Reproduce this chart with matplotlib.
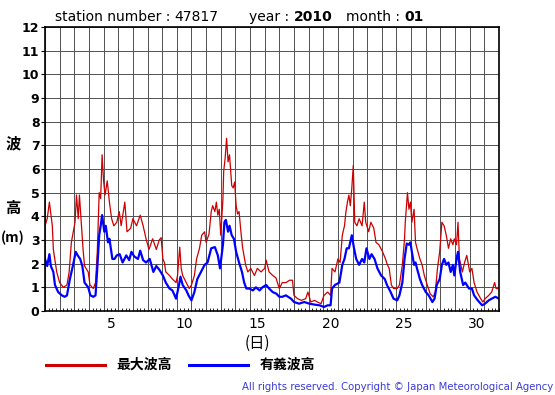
import matplotlib
matplotlib.use("Agg")
import matplotlib.pyplot as plt
from matplotlib.ticker import FixedLocator, MultipleLocator

plt.rcParams["font.family"] = ["DejaVu Sans", "Noto Sans CJK JP"]

# day axis: 0 = start of 1 Jan, 31 = end of 31 Jan
max_t = [0.0, 0.15, 0.3, 0.5, 0.57, 0.8, 1.0, 1.25, 1.5, 1.65, 1.8, 2.05, 2.15,
         2.27, 2.35, 2.5, 2.6, 2.7, 2.95, 3.07, 3.3, 3.45, 3.57, 3.7, 3.8, 3.9,
         4.0, 4.1, 4.25, 4.4, 4.55, 4.7, 4.9, 5.07, 5.2, 5.45, 5.6, 5.85, 6.0,
         6.25, 6.5, 6.7, 6.9, 7.1, 7.35, 7.6, 7.8, 7.93, 8.05, 8.15, 8.25, 8.5,
         8.7, 8.95, 9.05, 9.2, 9.3, 9.4, 9.65, 9.85, 10.0, 10.2, 10.35, 10.55,
         10.7, 10.9, 11.0, 11.2, 11.35, 11.45, 11.6, 11.7, 11.8, 11.9, 12.0,
         12.15, 12.2, 12.3, 12.4, 12.5, 12.6, 12.75, 12.85, 12.95, 13.05, 13.15,
         13.25, 13.4, 13.5, 13.7, 13.85, 14.05, 14.3, 14.5, 14.75, 15.0, 15.1,
         15.3, 15.55, 15.77, 16.0, 16.2, 16.45, 16.7, 16.9, 17.0, 17.25, 17.5,
         17.8, 17.95, 18.15, 18.4, 18.6, 18.85, 19.05, 19.3, 19.5, 19.6, 19.8,
         20.0, 20.15, 20.3, 20.45, 20.55, 20.65, 20.75, 20.85, 20.95, 21.05,
         21.15, 21.3, 21.45, 21.65, 21.8, 21.9, 22.1, 22.25, 22.45, 22.6, 22.8,
         23.05, 23.25, 23.35, 23.5, 23.65, 23.8, 24.05, 24.2, 24.4, 24.55, 24.6,
         24.75, 24.85, 24.95, 25.05, 25.2, 25.3, 25.4, 25.6, 25.75, 25.9, 26.1,
         26.3, 26.5, 26.65, 26.8, 26.95, 27.1, 27.25, 27.4, 27.55, 27.7, 27.85,
         27.95, 28.1, 28.2, 28.3, 28.5, 28.65, 28.8, 29.0, 29.15, 29.3, 29.5,
         29.75, 29.9, 30.05, 30.3, 30.5, 30.7, 30.8, 31.0]
max_h = [3.6, 3.9, 4.6, 3.6, 2.6, 1.65, 1.2, 1.0, 1.1, 1.65, 2.9, 3.75, 4.9,
         3.9, 4.9, 3.5, 2.6, 1.9, 1.65, 1.1, 0.95, 1.2, 2.5, 5.0, 4.75, 6.6,
         5.5, 4.9, 5.5, 4.6, 3.9, 3.6, 3.75, 4.2, 3.6, 4.6, 3.35, 3.5, 3.9,
         3.6, 4.05, 3.6, 3.05, 2.6, 3.05, 2.6, 3.0, 3.1, 2.2, 2.05, 1.65, 1.5,
         1.35, 1.2, 1.5, 2.7, 1.8, 1.5, 1.2, 0.95, 1.1, 1.5, 2.2, 2.65, 3.2,
         3.35, 2.9, 3.25, 4.2, 4.45, 4.2, 4.6, 4.05, 4.3, 3.2, 4.75, 5.9, 6.45,
         7.3, 6.3, 6.6, 5.3, 5.2, 5.45, 4.45, 4.1, 4.2, 3.2, 2.65, 1.95, 1.65,
         1.8, 1.5, 1.8, 1.65, 1.8, 2.15, 1.65, 1.5, 1.4, 0.95, 1.2, 1.2, 1.3,
         1.3, 0.66, 0.52, 0.45, 0.52, 0.8, 0.38, 0.45, 0.38, 0.31, 0.66, 0.8,
         0.66, 1.8, 1.65, 2.2, 2.05, 3.2, 3.6, 4.2, 4.6, 4.9, 4.45, 5.2, 6.15,
         3.75, 3.6, 3.9, 3.6, 4.6, 3.75, 3.35, 3.75, 3.5, 2.9, 2.8, 2.5, 2.2,
         2.0, 1.8, 1.1, 0.95, 0.95, 1.1, 1.95, 3.05, 3.75, 5.0, 4.3, 4.6, 3.75,
         4.3, 2.9, 2.65, 2.2, 1.95, 1.5, 1.1, 0.73, 0.6, 0.8, 1.8, 2.5, 3.75,
         3.6, 3.2, 2.65, 3.05, 2.8, 3.05, 2.8, 3.75, 2.2, 1.65, 2.05, 2.35,
         1.65, 1.8, 1.2, 0.8, 0.52, 0.38, 0.52, 0.66, 0.8, 1.2, 0.95, 0.95]

sig_t = [0.0, 0.15, 0.3, 0.4, 0.57, 0.68, 0.9, 1.15, 1.35, 1.5, 1.7, 1.9, 2.1,
         2.23, 2.4, 2.55, 2.7, 2.95, 3.1, 3.3, 3.45, 3.57, 3.7, 3.8, 3.9, 4.05,
         4.15, 4.3, 4.4, 4.6, 4.75, 4.9, 5.1, 5.3, 5.55, 5.75, 5.9, 6.1, 6.35,
         6.5, 6.7, 6.9, 7.15, 7.4, 7.6, 7.8, 8.05, 8.25, 8.5, 8.7, 8.95, 9.15,
         9.25, 9.4, 9.65, 9.8, 10.0, 10.2, 10.4, 10.65, 10.9, 11.1, 11.35, 11.6,
         11.8, 11.95, 12.15, 12.25, 12.35, 12.5, 12.6, 12.75, 12.9, 13.05,
         13.25, 13.45, 13.6, 13.75, 13.95, 14.2, 14.4, 14.65, 14.85, 15.1, 15.3,
         15.55, 15.8, 16.0, 16.2, 16.45, 16.8, 17.0, 17.35, 17.7, 18.05, 18.4,
         18.75, 19.05, 19.3, 19.5, 19.6, 19.8, 20.1, 20.3, 20.45, 20.6, 20.75,
         20.95, 21.1, 21.25, 21.45, 21.65, 21.8, 21.95, 22.15, 22.3, 22.5, 22.7,
         22.95, 23.2, 23.35, 23.6, 23.8, 24.05, 24.2, 24.4, 24.55, 24.7, 24.85,
         24.95, 25.05, 25.2, 25.3, 25.4, 25.6, 25.75, 26.0, 26.2, 26.45, 26.6,
         26.75, 26.95, 27.1, 27.25, 27.4, 27.55, 27.7, 27.85, 27.95, 28.1, 28.2,
         28.35, 28.55, 28.7, 28.95, 29.15, 29.3, 29.55, 29.85, 30.05, 30.3,
         30.5, 30.75, 31.0]
sig_h = [2.2, 1.9, 2.4, 1.9, 1.65, 1.1, 0.8, 0.66, 0.6, 0.66, 1.35, 1.9, 2.5,
         2.35, 2.2, 1.9, 1.2, 1.0, 0.66, 0.6, 0.66, 1.8, 3.2, 3.6, 4.05, 3.35,
         3.6, 2.9, 3.05, 2.2, 2.2, 2.35, 2.4, 2.05, 2.35, 2.15, 2.5, 2.3, 2.2,
         2.55, 2.15, 2.05, 2.2, 1.65, 1.9, 1.75, 1.5, 1.2, 0.95, 0.87, 0.52,
         1.1, 1.45, 1.1, 0.87, 0.66, 0.45, 0.8, 1.35, 1.65, 1.95, 2.05, 2.65,
         2.7, 2.35, 1.8, 2.8, 3.75, 3.85, 3.35, 3.6, 3.2, 3.05, 2.5, 2.05, 1.65,
         1.2, 0.95, 0.95, 0.87, 1.0, 0.87, 1.0, 1.1, 0.95, 0.8, 0.73, 0.6, 0.6,
         0.66, 0.52, 0.38, 0.31, 0.38, 0.31, 0.27, 0.24, 0.17, 0.24, 0.24, 0.95,
         1.1, 1.2, 1.95, 2.2, 2.65, 2.65, 3.2, 2.65, 2.2, 1.95, 2.2, 2.05, 2.65,
         2.2, 2.4, 2.2, 1.8, 1.5, 1.35, 1.1, 0.8, 0.52, 0.45, 0.66, 1.2, 2.2,
         2.85, 2.8, 2.9, 2.5, 1.95, 2.05, 1.8, 1.35, 1.1, 0.8, 0.66, 0.38, 0.52,
         1.1, 1.35, 1.95, 2.2, 1.95, 2.05, 1.65, 1.95, 1.5, 2.2, 2.5, 1.65, 1.1,
         1.2, 0.95, 0.95, 0.66, 0.45, 0.24, 0.31, 0.45, 0.52, 0.6, 0.52]

day_labels = [5, 10, 15, 20, 25, 30]
height_ticks = list(range(0, 13))

W, H = 555, 395


def fx(px):
    return px / W


def fy(py):
    return 1 - py / H


fig = plt.figure(figsize=(W / 100, H / 100), dpi=100)
ax = fig.add_axes([fx(45), fy(311), 454 / W, 284 / H])

ax.plot(max_t, max_h, color="#cc0000", linewidth=0.9)
ax.plot(sig_t, sig_h, color="#0000ff", linewidth=1.6)

ax.set_xlim(0, 31)
ax.set_ylim(0, 12)

# grid on day boundaries and every metre
ax.xaxis.set_minor_locator(FixedLocator(range(0, 32)))
ax.xaxis.set_major_locator(FixedLocator([d - 0.5 for d in day_labels]))
ax.set_xticklabels([str(d) for d in day_labels], fontsize=10)
ax.yaxis.set_major_locator(FixedLocator(height_ticks))
ax.set_yticklabels([str(v) for v in height_ticks], fontsize=9, fontweight="bold")
ax.grid(which="minor", axis="x", color="#505050", linewidth=0.7)
ax.grid(which="major", axis="y", color="#505050", linewidth=0.7)
ax.set_axisbelow(True)
ax.tick_params(axis="x", which="major", length=0, pad=4)
ax.tick_params(axis="x", which="minor", length=0)
ax.tick_params(axis="y", length=3, width=0.8, pad=1)
for spine in ax.spines.values():
    spine.set_linewidth(1.2)
    spine.set_color("black")

# small 6-hourly ticks along the bottom
sec = ax.secondary_xaxis("bottom")
sec.xaxis.set_major_locator(MultipleLocator(0.25))
sec.tick_params(direction="in", length=2, width=0.6, labelbottom=False)
sec.spines["bottom"].set_visible(False)

ax.text(14.5, -0.115, "(日)", transform=ax.get_xaxis_transform(),
        ha="center", va="center", fontsize=11, family="Noto Sans CJK JP")

# y label pieces
fig.text(fx(13), fy(143), "波", ha="center", va="center", fontsize=11,
         fontweight="bold", family="Noto Sans CJK JP")
fig.text(fx(13), fy(208), "高", ha="center", va="center", fontsize=11,
         fontweight="bold", family="Noto Sans CJK JP")
fig.text(fx(13), fy(238), "(m)", ha="center", va="center", fontsize=10,
         fontweight="bold", family="Noto Sans CJK JP")

# header: plain labels with bold numbers
renderer = fig.canvas.get_renderer()


def header(x_px, parts):
    x = x_px
    for text, weight in parts:
        t = fig.text(fx(x), fy(17), text, ha="left", va="center",
                     fontsize=10, fontweight=weight)
        x += t.get_window_extent(renderer).width


header(55, [("station number : ", "normal"), ("47817", "normal")])
header(249, [("year : ", "normal"), ("2010", "bold")])
header(346, [("month : ", "normal"), ("01", "bold")])

# legend drawn by hand, as in the original layout
fig.add_artist(plt.Line2D([fx(46), fx(105)], [fy(365), fy(365)],
                          color="#cc0000", linewidth=2.2))
fig.text(fx(116), fy(365), "最大波高", ha="left", va="center", fontsize=10,
         fontweight="bold", family="Noto Sans CJK JP")
fig.add_artist(plt.Line2D([fx(189), fx(248)], [fy(365), fy(365)],
                          color="#0000ff", linewidth=2.2))
fig.text(fx(260), fy(365), "有義波高", ha="left", va="center", fontsize=10,
         fontweight="bold", family="Noto Sans CJK JP")

fig.text(fx(553), fy(387),
         "All rights reserved. Copyright \u00a9 Japan Meteorological Agency",
         ha="right", va="center", fontsize=7.3, color="#3a3ad8")

fig.savefig("out.png", dpi=100)
